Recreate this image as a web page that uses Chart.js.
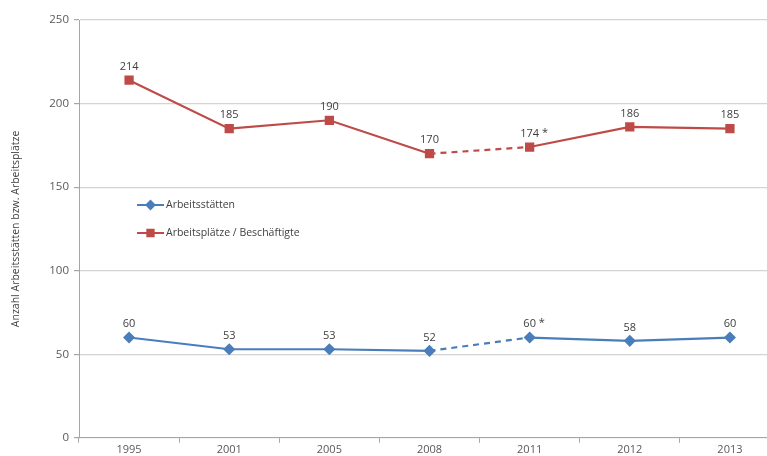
<!DOCTYPE html>
<html>
<head>
<meta charset="utf-8">
<script src="https://cdn.jsdelivr.net/npm/chart.js@4"></script>
<style>
	html, body { margin: 0; padding: 0; background: #fff; overflow: hidden; }
	#wrap { width: 790px; height: 456px; }
</style>
</head>
<body>
<div id="wrap"><canvas id="chart"></canvas></div>
<script>
(function(){
	// Jahre und Werte
	const years = ['1995','2001','2005','2008','2011','2012','2013'];
	const arbeitsstaetten = [60, 53, 53, 52, 60, 58, 60];
	const arbeitsplaetze = [214, 185, 190, 170, 174, 186, 185];
	// Werte mit geänderter Erhebungsmethode (Stern)
	const starred = ['2011'];
	const yTicks = [0, 50, 100, 150, 200, 250];

	const BLUE = '#4a7ebb';
	const RED = '#be4b48';
	const TEXT = '#595959';
	const FONT = "'Open Sans', 'Noto Sans', sans-serif";

	// Abschnitt 2008 -> 2011 gestrichelt
	const dashAfter = years.indexOf('2008');
	const segment = { borderDash: ctx => ctx.p0DataIndex === dashAfter ? [6, 5] : undefined };

	// Wertbeschriftungen über den Punkten
	const valueLabels = {
		id: 'valueLabels',
		afterDatasetsDraw(chart){
			const ctx = chart.ctx;
			ctx.save();
			ctx.font = '11px ' + FONT;
			ctx.fillStyle = '#404040';
			ctx.textBaseline = 'bottom';
			chart.data.datasets.forEach((ds, i) => {
				chart.getDatasetMeta(i).data.forEach((pt, j) => {
					const txt = String(ds.data[j]);
					const w = ctx.measureText(txt).width;
					const x = pt.x - w / 2;
					const y = pt.y - 8;
					ctx.textAlign = 'left';
					ctx.fillText(txt, x, y);
					if(starred.includes(years[j])) ctx.fillText(' *', x + w, y - 1);
				});
			});
			ctx.restore();
		}
	};

	// Legende innerhalb der Zeichenfläche
	const innerLegend = {
		id: 'innerLegend',
		afterDraw(chart){
			const ctx = chart.ctx;
			ctx.save();
			ctx.font = '10.5px ' + FONT;
			ctx.textBaseline = 'middle';
			const items = [
				{ ds: chart.data.datasets[0], y: 205 },
				{ ds: chart.data.datasets[1], y: 233 }
			];
			items.forEach(it => {
				ctx.strokeStyle = it.ds.borderColor;
				ctx.lineWidth = 2;
				ctx.beginPath(); ctx.moveTo(137, it.y); ctx.lineTo(164, it.y); ctx.stroke();
				ctx.fillStyle = it.ds.pointBackgroundColor;
				ctx.strokeStyle = it.ds.pointBackgroundColor;
				ctx.beginPath();
				Chart.helpers.drawPoint(ctx, {
					pointStyle: it.ds.pointStyle,
					radius: it.ds.pointRadius - 0.5,
					borderWidth: 1
				}, 150.5, it.y);
				ctx.fillStyle = '#404040';
				ctx.fillText(it.ds.label, 166, it.y);
			});
			ctx.restore();
		}
	};

	new Chart(document.getElementById('chart'), {
		type: 'line',
		data: {
			labels: years,
			datasets: [
				{
					label: 'Arbeitsstätten',
					data: arbeitsstaetten,
					borderColor: BLUE,
					backgroundColor: BLUE,
					pointBackgroundColor: BLUE,
					pointBorderColor: BLUE,
					pointStyle: 'rectRot',
					pointRadius: 4.5,
					borderWidth: 2.2,
					tension: 0,
					segment
				},
				{
					label: 'Arbeitsplätze / Beschäftigte',
					data: arbeitsplaetze,
					borderColor: RED,
					backgroundColor: RED,
					pointBackgroundColor: RED,
					pointBorderColor: RED,
					pointStyle: 'rect',
					pointRadius: 5,
					borderWidth: 2.2,
					tension: 0,
					segment
				}
			]
		},
		options: {
			responsive: true,
			maintainAspectRatio: false,
			animation: false,
			layout: { padding: { top: 20, right: 10, bottom: 0, left: 0 } },
			plugins: {
				legend: { display: false },
				tooltip: { enabled: false }
			},
			scales: {
				x: {
					offset: true,
					grid: {
						offset: true,
						drawOnChartArea: false,
						drawTicks: true,
						tickLength: 5,
						color: '#a6a6a6'
					},
					border: { color: '#a6a6a6' },
					ticks: { color: TEXT, font: { family: FONT, size: 11 }, padding: 0, maxRotation: 0 }
				},
				y: {
					min: 0,
					max: 250,
					afterBuildTicks: scale => { scale.ticks = yTicks.map(v => ({ value: v })); },
					afterFit: scale => { scale.width = 79; },
					grid: { color: '#d4d4d4', lineWidth: 1.2, tickLength: 5, tickColor: '#a6a6a6' },
					border: { color: '#a6a6a6' },
					ticks: { color: TEXT, font: { family: FONT, size: 11.5 }, padding: 5 },
					title: {
						display: true,
						text: 'Anzahl Arbeitsstätten bzw. Arbeitsplätze',
						color: '#404040',
						font: { family: FONT, size: 10.5 },
						padding: { top: 10, bottom: 4 }
					}
				}
			}
		},
		plugins: [valueLabels, innerLegend]
	});
})();
</script>
</body>
</html>
